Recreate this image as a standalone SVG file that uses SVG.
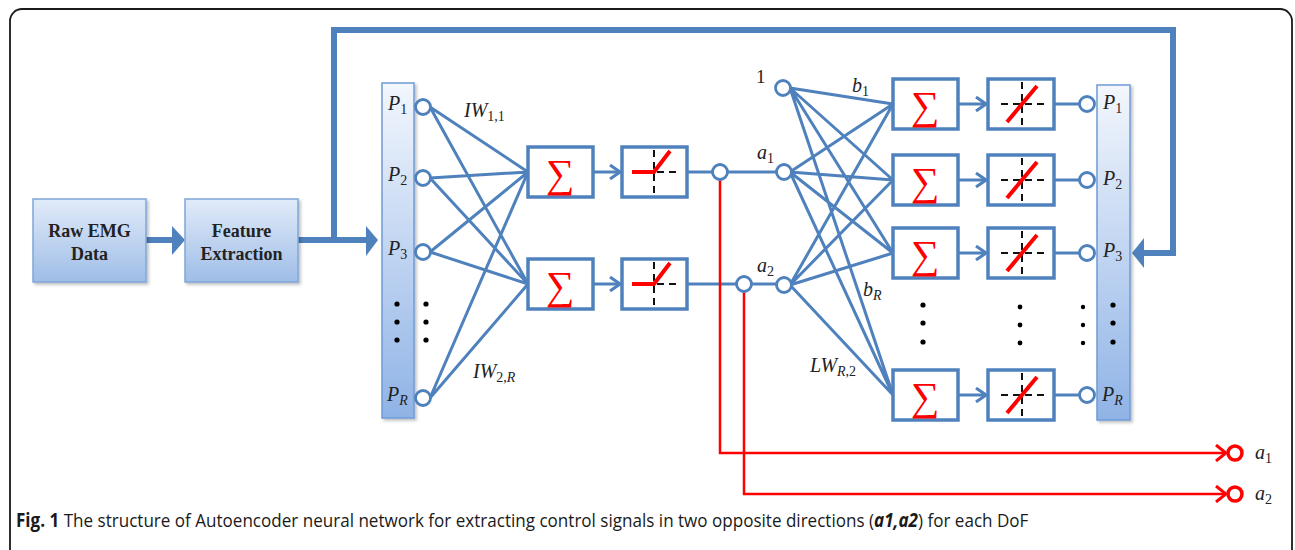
<svg xmlns="http://www.w3.org/2000/svg" width="1295" height="550" viewBox="0 0 1295 550">
<style>
.frame{fill:none;stroke:#1a1a1a;stroke-width:1.8}
.box{stroke:#7fa6d9;stroke-width:1.5}
.col{stroke:#6f9bd6;stroke-width:1.5}
.ftxt{font-family:"Liberation Serif",serif;font-weight:bold;font-size:18px;fill:#222;text-anchor:middle}
.wb{fill:#fff;stroke:#4f81bd;stroke-width:3.5}
.conn{fill:none;stroke:#4f81bd;stroke-width:3}
.thick{fill:none;stroke:#4f81bd;stroke-width:6}
.node{fill:#fff;stroke:#4f81bd;stroke-width:2.8}
.sig{font-family:"Liberation Serif","DejaVu Serif",serif;font-size:40px;fill:#ff0000;text-anchor:middle}
.dash{stroke:#111;stroke-width:2;stroke-dasharray:7,5;fill:none}
.relu{stroke:#ff0000;stroke-width:4;fill:none}
.math{font-family:"Liberation Serif",serif;font-style:italic;font-size:20px;fill:#222}
.sub{font-style:normal;font-size:14px}
.subi{font-style:italic;font-size:14px}
.dot{fill:#000}
.red{fill:none;stroke:#ff0000;stroke-width:2.5}
.rc{fill:#fff;stroke:#ff0000;stroke-width:3.5}
.cap{font-family:"Open Sans",sans-serif;font-size:19px;fill:#1a1a1a}
</style>
<defs>
<linearGradient id="gBox" x1="0" y1="0" x2="0" y2="1">
<stop offset="0" stop-color="#e1ebf9"/>
<stop offset="1" stop-color="#9fbde7"/>
</linearGradient>
<linearGradient id="gCol" x1="0" y1="0" x2="0" y2="1">
<stop offset="0" stop-color="#f3f7fd"/>
<stop offset="1" stop-color="#8fb3e6"/>
</linearGradient>
<marker id="chev" viewBox="0 0 12 16" refX="11" refY="8" markerWidth="12" markerHeight="16" markerUnits="userSpaceOnUse" orient="auto">
<path d="M1,1 L11,8 L1,15" fill="none" stroke="#4f81bd" stroke-width="3"/>
</marker>
<marker id="rchev" viewBox="0 0 12 18" refX="11" refY="9" markerWidth="12" markerHeight="18" markerUnits="userSpaceOnUse" orient="auto">
<path d="M1,1 L11,9 L1,17" fill="none" stroke="#ff0000" stroke-width="3"/>
</marker>
<filter id="sh" x="-10%" y="-10%" width="130%" height="130%">
<feDropShadow dx="2" dy="2" stdDeviation="1.5" flood-color="#000" flood-opacity="0.25"/>
</filter>
</defs>

<rect class="frame" x="10" y="9" width="1282" height="570" rx="12"/>

<g id="connectors">
<path class="thick" d="M146,240 H174"/>
<polygon points="185,240 172,226 172,255" fill="#4f81bd"/>
<path class="thick" d="M298,240 H368"/>
<polygon points="378,240 366,226 366,256" fill="#4f81bd"/>
<path class="thick" d="M334,240 V30 H1173 V253 H1142"/>
<polygon points="1132,253 1144,238 1144,268" fill="#4f81bd"/>
<path class="conn" d="M430,107 L528,172 M430,107 L528,284 M430,178 L528,172 M430,178 L528,284 M430,252 L528,172 M430,252 L528,284 M430,398 L528,172 M430,398 L528,284"/>
<path class="conn" d="M593,172 H620" marker-end="url(#chev)"/>
<path class="conn" d="M593,284 H620" marker-end="url(#chev)"/>
<path class="conn" d="M687,172 H713 M727,172 H777"/>
<path class="conn" d="M687,284 H737 M751,284 H777"/>
<path class="conn" d="M790,88 L893,104 M790,88 L893,180 M790,88 L893,253 M790,88 L893,395 M790,172 L893,104 M790,172 L893,180 M790,172 L893,253 M790,172 L893,395 M790,285 L893,104 M790,285 L893,180 M790,285 L893,253 M790,285 L893,395"/>
<path class="conn" d="M958,104 H986" marker-end="url(#chev)"/>
<path class="conn" d="M958,180 H986" marker-end="url(#chev)"/>
<path class="conn" d="M958,253 H986" marker-end="url(#chev)"/>
<path class="conn" d="M958,395 H986" marker-end="url(#chev)"/>
<path class="conn" d="M1054,104 H1080 M1054,180 H1080 M1054,253 H1080 M1054,395 H1080"/>
<path class="red" d="M720,179 V453 H1226" marker-end="url(#rchev)"/>
<path class="red" d="M744,291 V494 H1226" marker-end="url(#rchev)"/>
</g>

<g id="raw-emg">
<rect class="box" x="33" y="199" width="113" height="83" fill="url(#gBox)" filter="url(#sh)"/>
<text class="ftxt" x="89.5" y="237">Raw EMG</text>
<text class="ftxt" x="89.5" y="260">Data</text>
</g>
<g id="feature-extraction">
<rect class="box" x="185" y="199" width="113" height="83" fill="url(#gBox)" filter="url(#sh)"/>
<text class="ftxt" x="241.5" y="237">Feature</text>
<text class="ftxt" x="241.5" y="260">Extraction</text>
</g>

<g id="input-layer">
<rect class="col" x="382" y="83" width="32" height="335" fill="url(#gCol)" filter="url(#sh)"/>
<text class="math" x="388" y="110">P<tspan class="sub" dy="4">1</tspan></text>
<text class="math" x="388" y="181">P<tspan class="sub" dy="4">2</tspan></text>
<text class="math" x="388" y="255">P<tspan class="sub" dy="4">3</tspan></text>
<text class="math" x="387" y="401">P<tspan class="subi" dy="4">R</tspan></text>
<circle class="dot" cx="397" cy="304" r="2.6"/><circle class="dot" cx="397" cy="322" r="2.6"/><circle class="dot" cx="397" cy="340" r="2.6"/>
<circle class="dot" cx="426" cy="304" r="2.6"/><circle class="dot" cx="426" cy="322" r="2.6"/><circle class="dot" cx="426" cy="340" r="2.6"/>
<circle class="node" cx="423" cy="107" r="7.5"/>
<circle class="node" cx="423" cy="178" r="7.5"/>
<circle class="node" cx="423" cy="252" r="7.5"/>
<circle class="node" cx="423" cy="398" r="7.5"/>
<text class="math" x="464" y="117">IW<tspan class="sub" dy="4">1,1</tspan></text>
<text class="math" x="473" y="378">IW<tspan class="sub" dy="4">2,<tspan font-style="italic">R</tspan></tspan></text>
</g>

<g id="hidden-sum-1">
<rect class="wb" x="528" y="147" width="65" height="50"/>
<text class="sig" x="560" y="187">∑</text>
</g>
<g id="hidden-sum-2">
<rect class="wb" x="528" y="259" width="65" height="50"/>
<text class="sig" x="560" y="299">∑</text>
</g>
<g id="hidden-act-1">
<rect class="wb" x="622" y="147" width="65" height="50"/>
<path class="dash" d="M654,150 V195 M633,172 H677"/>
<path class="relu" d="M632,172 H654 L670,151"/>
</g>
<g id="hidden-act-2">
<rect class="wb" x="622" y="259" width="65" height="50"/>
<path class="dash" d="M654,262 V307 M633,284 H677"/>
<path class="relu" d="M632,284 H654 L670,263"/>
</g>
<g id="hidden-out">
<circle class="node" cx="720" cy="172" r="7.5"/>
<circle class="node" cx="744" cy="284" r="7.5"/>
</g>

<g id="decoder-inputs">
<text x="756" y="83" font-family="Liberation Serif,serif" font-size="19" fill="#222">1</text>
<circle class="node" cx="783" cy="88" r="7.5"/>
<text class="math" x="757" y="159">a<tspan class="sub" dy="4">1</tspan></text>
<circle class="node" cx="784" cy="172" r="7.5"/>
<text class="math" x="757" y="272">a<tspan class="sub" dy="4">2</tspan></text>
<circle class="node" cx="784" cy="285" r="7.5"/>
<text class="math" x="852" y="92">b<tspan class="sub" dy="4">1</tspan></text>
<text class="math" x="863" y="296">b<tspan class="subi" dy="4">R</tspan></text>
<text class="math" x="810" y="372">LW<tspan class="sub" dy="4"><tspan font-style="italic">R</tspan>,2</tspan></text>
</g>

<g id="output-sum">
<rect class="wb" x="893" y="79" width="65" height="50"/>
<text class="sig" x="925" y="119">∑</text>
<rect class="wb" x="893" y="155" width="65" height="50"/>
<text class="sig" x="925" y="195">∑</text>
<rect class="wb" x="893" y="228" width="65" height="50"/>
<text class="sig" x="925" y="268">∑</text>
<rect class="wb" x="893" y="370" width="65" height="50"/>
<text class="sig" x="925" y="410">∑</text>
<circle class="dot" cx="923" cy="305" r="2.6"/><circle class="dot" cx="923" cy="323" r="2.6"/><circle class="dot" cx="923" cy="342" r="2.6"/>
</g>

<g id="output-act">
<rect class="wb" x="988" y="79" width="66" height="50"/>
<path class="dash" d="M1022,82 V127 M1001,104 H1045"/>
<path class="relu" d="M1007,122 L1037,86"/>
<rect class="wb" x="988" y="155" width="66" height="50"/>
<path class="dash" d="M1022,158 V203 M1001,180 H1045"/>
<path class="relu" d="M1007,198 L1037,162"/>
<rect class="wb" x="988" y="228" width="66" height="50"/>
<path class="dash" d="M1022,231 V276 M1001,253 H1045"/>
<path class="relu" d="M1007,271 L1037,235"/>
<rect class="wb" x="988" y="370" width="66" height="50"/>
<path class="dash" d="M1022,373 V418 M1001,395 H1045"/>
<path class="relu" d="M1007,413 L1037,377"/>
<circle class="dot" cx="1020" cy="307" r="2.4"/><circle class="dot" cx="1020" cy="325" r="2.4"/><circle class="dot" cx="1020" cy="343" r="2.4"/>
</g>

<g id="output-layer">
<circle class="node" cx="1087" cy="104" r="7.5"/>
<circle class="node" cx="1087" cy="180" r="7.5"/>
<circle class="node" cx="1087" cy="253" r="7.5"/>
<circle class="node" cx="1087" cy="395" r="7.5"/>
<circle class="dot" cx="1083" cy="307" r="2.2"/><circle class="dot" cx="1083" cy="325" r="2.2"/><circle class="dot" cx="1083" cy="343" r="2.2"/>
<rect class="col" x="1097" y="85" width="33" height="335" fill="url(#gCol)" filter="url(#sh)"/>
<text class="math" x="1103" y="109">P<tspan class="sub" dy="4">1</tspan></text>
<text class="math" x="1103" y="185">P<tspan class="sub" dy="4">2</tspan></text>
<text class="math" x="1103" y="257">P<tspan class="sub" dy="4">3</tspan></text>
<text class="math" x="1102" y="401">P<tspan class="subi" dy="4">R</tspan></text>
<circle class="dot" cx="1113" cy="305" r="2.6"/><circle class="dot" cx="1113" cy="323" r="2.6"/><circle class="dot" cx="1113" cy="342" r="2.6"/>
</g>

<g id="outputs-a">
<circle class="rc" cx="1235" cy="453" r="7"/>
<text class="math" x="1255" y="459">a<tspan class="sub" dy="4">1</tspan></text>
<circle class="rc" cx="1235" cy="494" r="7"/>
<text class="math" x="1255" y="500">a<tspan class="sub" dy="4">2</tspan></text>
</g>

<g id="caption" transform="translate(16,527) scale(0.898,1)">
<text class="cap" x="0" y="0"><tspan font-weight="bold">Fig. 1</tspan> The structure of Autoencoder neural network for extracting control signals in two opposite directions (<tspan font-weight="bold" font-style="italic">a1,a2</tspan>) for each DoF</text>
</g>
</svg>
